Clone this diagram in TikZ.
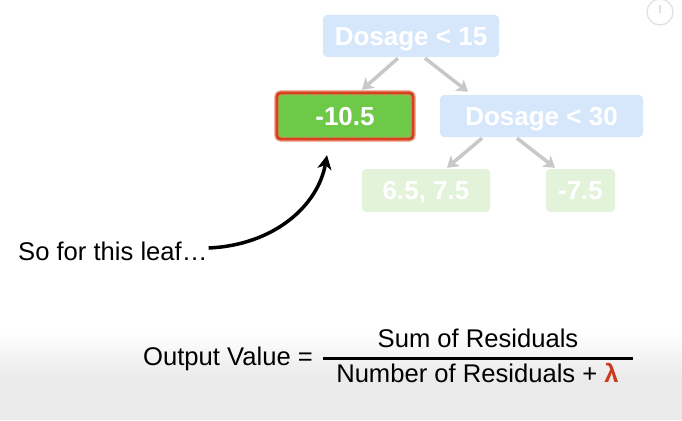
\documentclass[tikz,border=0pt]{standalone}
\usepackage{fontspec}
\setmainfont{Liberation Sans}
\usetikzlibrary{arrows.meta}
\definecolor{bluebox}{HTML}{D6E7FB}
\definecolor{greenbox}{HTML}{6DC947}
\definecolor{palegreen}{HTML}{E2F3DA}
\definecolor{redrim}{HTML}{D8401E}
\definecolor{greyarrow}{HTML}{C8C8C8}
\definecolor{lamred}{HTML}{C93A1E}
\definecolor{bottomgrey}{HTML}{EAEAEA}
\tikzset{
  treebox/.style={rounded corners=4pt, inner sep=0pt, text height=18.5pt, text depth=0pt,
    font=\fontsize{26}{30}\selectfont\bfseries, text=white, align=center},
  bluenode/.style={treebox, fill=bluebox},
  palenode/.style={treebox, fill=palegreen},
  leafnode/.style={treebox, fill=greenbox},
  garrow/.style={draw=greyarrow, line width=3.5pt, -{Stealth[length=11pt,width=14pt,inset=3pt]}},
  barrow/.style={draw=black, line width=3.5pt, -{Stealth[length=14pt,width=14pt,inset=4pt]}},
  bodytext/.style={font=\fontsize{25.6}{30}\selectfont, inner sep=0pt}
}
\begin{document}
\begin{tikzpicture}[x=1pt,y=-1pt]
\useasboundingbox (0,0) rectangle (682,420);
% background
\fill[white] (0,0) rectangle (682,420);
\shade[top color=white, bottom color=bottomgrey] (0,332) rectangle (682,378);
\fill[bottomgrey] (0,377.5) rectangle (682,420);
% info icon
\draw[black!12, line width=1.2pt] (660,12) circle[radius=13];
\draw[black!12, line width=1.6pt] (660,5) -- (660,13);

% tree
\node[bluenode, minimum width=176pt, minimum height=42pt] (d15) at (411,36) {Dosage < 15};
\node[leafnode, minimum width=136pt, minimum height=46pt] (leaf) at (345,116) {-10.5};
\draw[redrim!40, line width=1.2pt, rounded corners=6pt]
  ([xshift=-2pt,yshift=2pt]leaf.north west) rectangle ([xshift=2pt,yshift=-2pt]leaf.south east);
\draw[redrim, line width=3pt, rounded corners=4pt]
  (leaf.north west) rectangle (leaf.south east);
\draw[redrim!60, line width=1pt, dash pattern=on 1pt off 1.5pt, rounded corners=3pt]
  ([xshift=2.2pt,yshift=-2.2pt]leaf.north west) rectangle ([xshift=-2.2pt,yshift=2.2pt]leaf.south east);
\node[bluenode, minimum width=203pt, minimum height=42pt] (d30) at (541.5,116) {Dosage < 30};
\node[palenode, minimum width=128pt, minimum height=43pt] (l1) at (426,190.5) {6.5, 7.5};
\node[palenode, minimum width=69pt, minimum height=43pt] (l2) at (580.5,190.5) {-7.5};

\draw[garrow] ([xshift=-13pt,yshift=-1pt]d15.south) -- ([xshift=17pt,yshift=3pt]leaf.north);
\draw[garrow] ([xshift=14pt,yshift=-1pt]d15.south) -- ([xshift=-73.5pt,yshift=3pt]d30.north);
\draw[garrow] ([xshift=-59.5pt,yshift=-1pt]d30.south) -- ([xshift=21pt,yshift=1pt]l1.north);
\draw[garrow] ([xshift=-24.5pt,yshift=-1pt]d30.south) -- ([xshift=-25.5pt,yshift=1pt]l2.north);

% annotation
\node[bodytext, anchor=base west] (txt) at (18,260) {So for this leaf…};
\coordinate (cstart) at ([xshift=1pt,yshift=12pt]txt.base east);
\coordinate (cend) at ([xshift=-18pt,yshift=-16pt]leaf.south);
\draw[barrow] (cstart) .. controls (275,245) and (318,205) .. (cend);

% formula
\node[bodytext, anchor=base west] (ov) at (143,365) {Output Value =};
\node[bodytext, anchor=base] (num) at (478,347) {Sum of Residuals};
\node[bodytext, anchor=base] (den) at (477.5,382) {Number of Residuals + {\bfseries\color{lamred}λ}};
\coordinate (fl) at (323,358);
\coordinate (fr) at (633,358);
\draw[line width=3pt] (fl) -- (fr);
\end{tikzpicture}
\end{document}
